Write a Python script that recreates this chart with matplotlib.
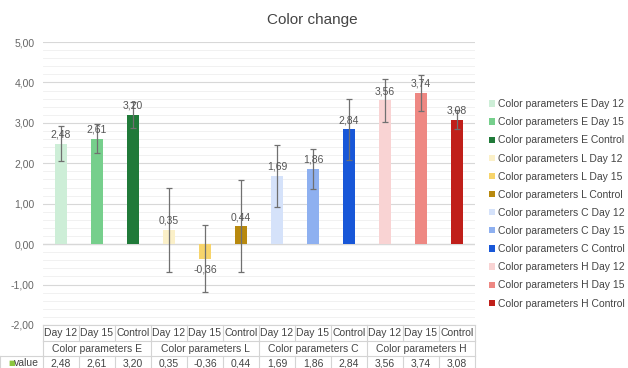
import numpy as np
import matplotlib.pyplot as plt
from matplotlib.ticker import MultipleLocator, FuncFormatter
from matplotlib.patches import Patch

plt.rcParams['font.family'] = ['Liberation Sans', 'DejaVu Sans']

groups = ["Color parameters E", "Color parameters L", "Color parameters C", "Color parameters H"]
days = ["Day 12", "Day 15", "Control"]
values = [2.48, 2.61, 3.20, 0.35, -0.36, 0.44, 1.69, 1.86, 2.84, 3.56, 3.74, 3.08]
errors = [0.43, 0.36, 0.32, 1.03, 0.83, 1.14, 0.76, 0.50, 0.76, 0.53, 0.45, 0.24]
colors = ["#cdeed7", "#76cf8c", "#207a39",
          "#fbf0c8", "#f7d46b", "#b8890e",
          "#d5e2fa", "#8eb0f0", "#1857d8",
          "#f9d3d3", "#ee8883", "#c01f1a"]

def fmt(v):
    return f"{v:.2f}".replace(".", ",")

fig = plt.figure(figsize=(6.28, 3.68), dpi=100)
ax = fig.add_axes([43 / 628, 1 - 325 / 368, 432 / 628, 283 / 368])

x = np.arange(len(values))
ax.bar(x, values, width=0.32, color=colors, zorder=3)
ax.errorbar(x, values, yerr=errors, fmt='none', ecolor='#707070',
            elinewidth=0.9, capsize=2.5, capthick=0.9, zorder=4)

for xi, v in zip(x, values):
    if v >= 0:
        ax.annotate(fmt(v), (xi, v), xytext=(0, 3), textcoords='offset points',
                    ha='center', va='bottom', fontsize=7.5, color='#555555', zorder=5)
    else:
        ax.annotate(fmt(v), (xi, v), xytext=(0, -4), textcoords='offset points',
                    ha='center', va='top', fontsize=7.5, color='#555555', zorder=5)

ax.set_xlim(-0.5, len(values) - 0.5)
ax.set_ylim(-2, 5)
ax.yaxis.set_major_locator(MultipleLocator(1))
ax.yaxis.set_minor_locator(MultipleLocator(0.2))
ax.yaxis.set_major_formatter(FuncFormatter(lambda v, p: fmt(v)))
ax.grid(axis='y', which='major', color='#d8d8d8', linewidth=0.8, zorder=0)
ax.grid(axis='y', which='minor', color='#efefef', linewidth=0.6, zorder=0)
ax.axhline(0, color='#cfcfcf', linewidth=0.9, zorder=1)
ax.tick_params(axis='y', which='both', length=0, labelsize=7.5, labelcolor='#666666', pad=6)
ax.tick_params(axis='x', which='both', length=0, labelbottom=False)
for s in ax.spines.values():
    s.set_visible(False)

# data table under the axis
tr = ax.get_xaxis_transform()
h = 1 / 283
r1, r2, r3, r4 = 0, -16 * h, -31 * h, -46 * h
lc = '#d4d4d4'
kw = dict(transform=tr, color=lc, linewidth=0.8, clip_on=False)
for yy in [r1, r2, r3]:
    ax.plot([-0.5, len(values) - 0.5], [yy, yy], **kw)
ax.plot([-0.5 - 43 / 36, -0.5], [r3, r3], **kw)
for i in range(len(values) + 1):
    xb = i - 0.5
    ax.plot([xb, xb], [r1, r2], **kw)
    ax.plot([xb, xb], [r3, r4], **kw)
    if i % 3 == 0:
        ax.plot([xb, xb], [r2, r3], **kw)
ax.plot([-0.5 - 43 / 36] * 2, [r3, r4], **kw)

tkw = dict(transform=tr, ha='center', va='center', fontsize=7.5, color='#444444', clip_on=False)
for i in range(len(values)):
    ax.text(i, (r1 + r2) / 2, days[i % 3], **tkw)
    ax.text(i, (r3 + r4) / 2, fmt(values[i]), **tkw)
for g, name in enumerate(groups):
    ax.text(g * 3 + 1, (r2 + r3) / 2, name, **tkw)
ax.text(-0.5 - 35 / 36, (r3 + r4) / 2, "\u25a0", transform=tr, ha='left', va='center',
        fontsize=5, color='#8cc63f', clip_on=False, family=['DejaVu Sans'])
ax.text(-0.5 - 29 / 36, (r3 + r4) / 2, "value", transform=tr, ha='left', va='center',
        fontsize=7.5, color='#444444', clip_on=False)

handles = [Patch(facecolor=c) for c in colors]
labels = [f"{g} {d}" for g in groups for d in days]
fig.legend(handles, labels, loc='upper left', bbox_to_anchor=(485 / 628, 1 - 95 / 368),
           frameon=False, fontsize=7.5, handlelength=0.55, handleheight=0.55,
           handletextpad=0.25, labelspacing=0.78, borderaxespad=0, labelcolor='#444444')

fig.text(312 / 628, 1 - 20 / 368, "Color change", ha='center', va='center',
         fontsize=11, color='#444444')

fig.savefig("out.png", dpi=100)
